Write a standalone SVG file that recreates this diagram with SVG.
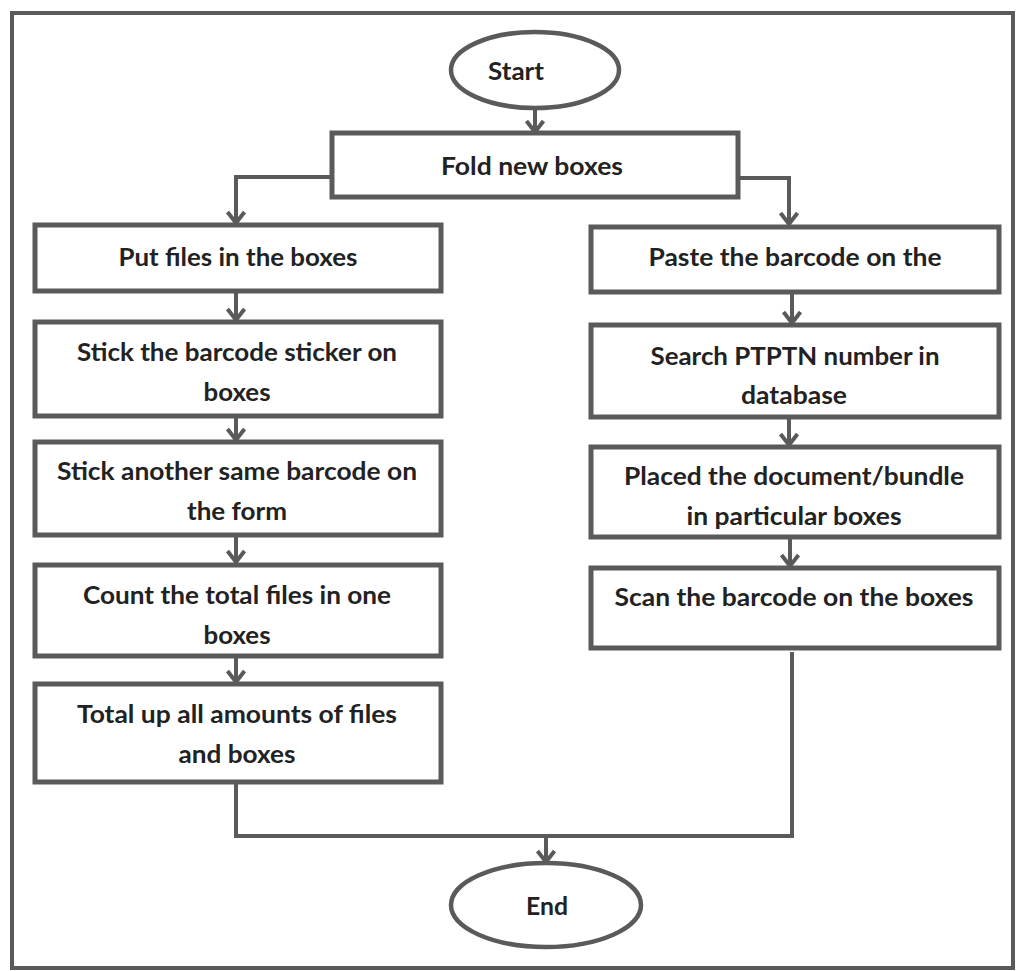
<svg xmlns="http://www.w3.org/2000/svg" width="1020" height="971" viewBox="0 0 1020 971">
  <style>
    .frame { fill: #ffffff; stroke: #5a5a5a; stroke-width: 4; }
    .box { fill: #ffffff; stroke: #5a5a5a; stroke-width: 5; }
    .term { fill: #ffffff; stroke: #5a5a5a; stroke-width: 4.5; }
    .wire { fill: none; stroke: #5a5a5a; stroke-width: 4; }
    .label { font-family: Lato, "Liberation Sans", sans-serif; font-size: 25px; font-weight: 700; fill: #222222; text-anchor: middle; }
  </style>
  <defs>
    <!-- open chevron arrowhead, tip at the end of the line -->
    <marker id="chev" markerUnits="userSpaceOnUse" markerWidth="24" markerHeight="24" refX="18" refY="12" orient="auto" viewBox="0 0 24 24">
      <path d="M 6 3.5 L 17 12 L 6 20.5" fill="none" stroke="#5a5a5a" stroke-width="4" stroke-linejoin="miter"/>
    </marker>
  </defs>

  <rect class="frame" x="12" y="13" width="1001" height="955"/>

  <g id="connectors">
    <path class="wire" d="M 535 108 L 535 133" marker-end="url(#chev)"/>
    <path class="wire" d="M 332 177 L 236 177 L 236 224" marker-end="url(#chev)"/>
    <path class="wire" d="M 738 178 L 789 178 L 789 225" marker-end="url(#chev)"/>
    <path class="wire" d="M 236 292 L 236 321" marker-end="url(#chev)"/>
    <path class="wire" d="M 236 416 L 236 441" marker-end="url(#chev)"/>
    <path class="wire" d="M 236 536 L 236 563" marker-end="url(#chev)"/>
    <path class="wire" d="M 236 656 L 236 683" marker-end="url(#chev)"/>
    <path class="wire" d="M 792 292 L 792 324" marker-end="url(#chev)"/>
    <path class="wire" d="M 789 417 L 789 446" marker-end="url(#chev)"/>
    <path class="wire" d="M 790 538 L 790 567" marker-end="url(#chev)"/>
    <path class="wire" d="M 236 782 L 236 836 L 792 836 L 792 652"/>
    <path class="wire" d="M 546 836 L 546 863" marker-end="url(#chev)"/>
  </g>

  <g id="start">
    <ellipse class="term" cx="535" cy="70" rx="84" ry="38"/>
    <text class="label" x="516" y="80" textLength="56" lengthAdjust="spacingAndGlyphs">Start</text>
  </g>

  <g id="fold">
    <rect class="box" x="332" y="133" width="406" height="64"/>
    <text class="label" x="532" y="175" textLength="182" lengthAdjust="spacingAndGlyphs">Fold new boxes</text>
  </g>

  <g id="put-files">
    <rect class="box" x="35" y="225" width="406" height="66"/>
    <text class="label" x="238" y="266" textLength="239" lengthAdjust="spacingAndGlyphs">Put files in the boxes</text>
  </g>

  <g id="stick-sticker">
    <rect class="box" x="35" y="322" width="406" height="94"/>
    <text class="label" x="237" y="361" textLength="320" lengthAdjust="spacingAndGlyphs">Stick the barcode sticker on</text>
    <text class="label" x="237" y="401" textLength="67" lengthAdjust="spacingAndGlyphs">boxes</text>
  </g>

  <g id="stick-another">
    <rect class="box" x="35" y="442" width="406" height="93"/>
    <text class="label" x="237" y="480" textLength="360" lengthAdjust="spacingAndGlyphs">Stick another same barcode on</text>
    <text class="label" x="237" y="520" textLength="100" lengthAdjust="spacingAndGlyphs">the form</text>
  </g>

  <g id="count">
    <rect class="box" x="35" y="565" width="406" height="91"/>
    <text class="label" x="237" y="604" textLength="308" lengthAdjust="spacingAndGlyphs">Count the total files in one</text>
    <text class="label" x="237" y="644" textLength="67" lengthAdjust="spacingAndGlyphs">boxes</text>
  </g>

  <g id="total">
    <rect class="box" x="35" y="684" width="406" height="98"/>
    <text class="label" x="237" y="723" textLength="320" lengthAdjust="spacingAndGlyphs">Total up all amounts of files</text>
    <text class="label" x="237" y="763" textLength="117" lengthAdjust="spacingAndGlyphs">and boxes</text>
  </g>

  <g id="paste">
    <rect class="box" x="591" y="227" width="408" height="65"/>
    <text class="label" x="795" y="266" textLength="293" lengthAdjust="spacingAndGlyphs">Paste the barcode on the</text>
  </g>

  <g id="search">
    <rect class="box" x="591" y="325" width="408" height="92"/>
    <text class="label" x="795" y="365" textLength="289" lengthAdjust="spacingAndGlyphs">Search PTPTN number in</text>
    <text class="label" x="794" y="404" textLength="106" lengthAdjust="spacingAndGlyphs">database</text>
  </g>

  <g id="placed">
    <rect class="box" x="591" y="447" width="408" height="90"/>
    <text class="label" x="794" y="485" textLength="340" lengthAdjust="spacingAndGlyphs">Placed the document/bundle</text>
    <text class="label" x="794" y="525" textLength="215" lengthAdjust="spacingAndGlyphs">in particular boxes</text>
  </g>

  <g id="scan">
    <rect class="box" x="591" y="568" width="408" height="80"/>
    <text class="label" x="794" y="606" textLength="359" lengthAdjust="spacingAndGlyphs">Scan the barcode on the boxes</text>
  </g>

  <g id="end">
    <ellipse class="term" cx="546" cy="905" rx="95" ry="42"/>
    <text class="label" x="547" y="915" textLength="42" lengthAdjust="spacingAndGlyphs">End</text>
  </g>
</svg>
